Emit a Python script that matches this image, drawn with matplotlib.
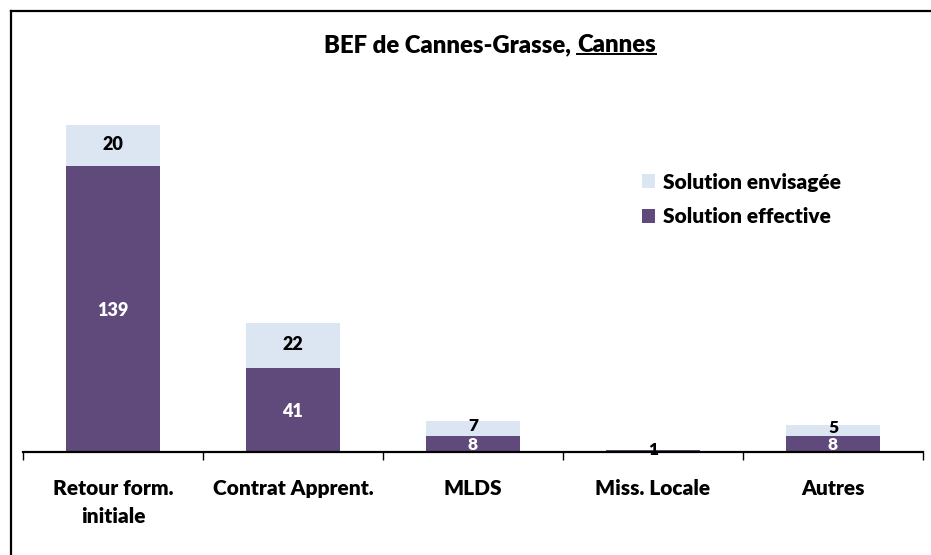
import matplotlib
matplotlib.use("Agg")
import matplotlib.pyplot as plt
from matplotlib.lines import Line2D
import numpy as np

categories = ["Retour form.\ninitiale", "Contrat Apprent.", "MLDS", "Miss. Locale", "Autres"]
effective = [139, 41, 8, 1, 8]
envisagee = [20, 22, 7, 0, 5]

c_eff = "#604A7B"
c_env = "#DCE6F2"
FONT = "Lato"
WT = "heavy"

W, H = 931, 555
fig = plt.figure(figsize=(W / 100, H / 100), dpi=100)

# figure border (left and top visible)
fig.add_artist(Line2D([11 / W, 11 / W], [0, 1 - 11 / H], color="black", lw=1.6, transform=fig.transFigure))
fig.add_artist(Line2D([11 / W, 1], [1 - 11 / H, 1 - 11 / H], color="black", lw=1.6, transform=fig.transFigure))

ax_left, ax_right = 23 / W, 923 / W
ax_bottom = (H - 452) / H
ax_h = 370 / H
ax = fig.add_axes([ax_left, ax_bottom, ax_right - ax_left, ax_h])

x = np.arange(len(categories))
bw = 0.52
ax.bar(x, effective, bw, color=c_eff, label="Solution effective")
ax.bar(x, envisagee, bw, bottom=effective, color=c_env, label="Solution envisagée")

ax.set_xlim(-0.5, len(categories) - 0.5)
ax.set_ylim(0, 180)
for s in ["top", "right", "left"]:
    ax.spines[s].set_visible(False)
ax.spines["bottom"].set_linewidth(1.6)
ax.set_yticks([])
ax.set_xticks(np.arange(-0.5, len(categories), 1.0))
ax.set_xticklabels([])
ax.tick_params(axis="x", length=6, width=1, direction="out")
for i, c in enumerate(categories):
    ax.text(i, -13, c, ha="center", va="top", fontsize=15, fontweight=WT,
            family=FONT, linespacing=1.6)

for i in range(len(categories)):
    e, v = effective[i], envisagee[i]
    small = (e + v) < 20
    fs = 12.5 if small else 13
    if e > 0:
        col = "white" if e >= 5 else "black"
        ypos = (e / 2 - 0.6) if e >= 5 else e
        ax.text(i, ypos, str(e), ha="center", va="center", fontsize=fs,
                fontweight=WT, color=col, family=FONT)
    if v > 0:
        ax.text(i, e + v / 2 + (1.0 if small else 0.4), str(v), ha="center", va="center",
                fontsize=fs, fontweight=WT, color="black", family=FONT)

# legend
handles, labels = ax.get_legend_handles_labels()
leg = fig.legend(handles[::-1], labels[::-1], loc="upper left",
                 bbox_to_anchor=(623 / W, 1 - 154 / H), frameon=False,
                 prop={"family": FONT, "weight": WT, "size": 15},
                 handlelength=0.65, handleheight=0.65, handletextpad=0.35,
                 labelspacing=0.75)

# title with underlined "Cannes"
ty = 1 - 45 / H
t1 = fig.text(0, ty, "BEF de Cannes-Grasse, ", fontsize=17.2, fontweight=WT,
              family=FONT, va="center", ha="left")
t2 = fig.text(0, ty, "Cannes", fontsize=17.2, fontweight=WT,
              family=FONT, va="center", ha="left")
fig.canvas.draw()
r = fig.canvas.get_renderer()
b1 = t1.get_window_extent(r)
b2 = t2.get_window_extent(r)
total = b1.width + b2.width
x0 = (490 - total / 2) / W
t1.set_x(x0)
t2.set_x(x0 + b1.width / W)
fig.canvas.draw()
b2 = t2.get_window_extent(r)
uy = (b2.y0 + 2) / H
fig.add_artist(Line2D([b2.x0 / W, b2.x1 / W], [uy, uy], color="black", lw=1.4,
                      transform=fig.transFigure))

fig.savefig("out.png", dpi=100)
